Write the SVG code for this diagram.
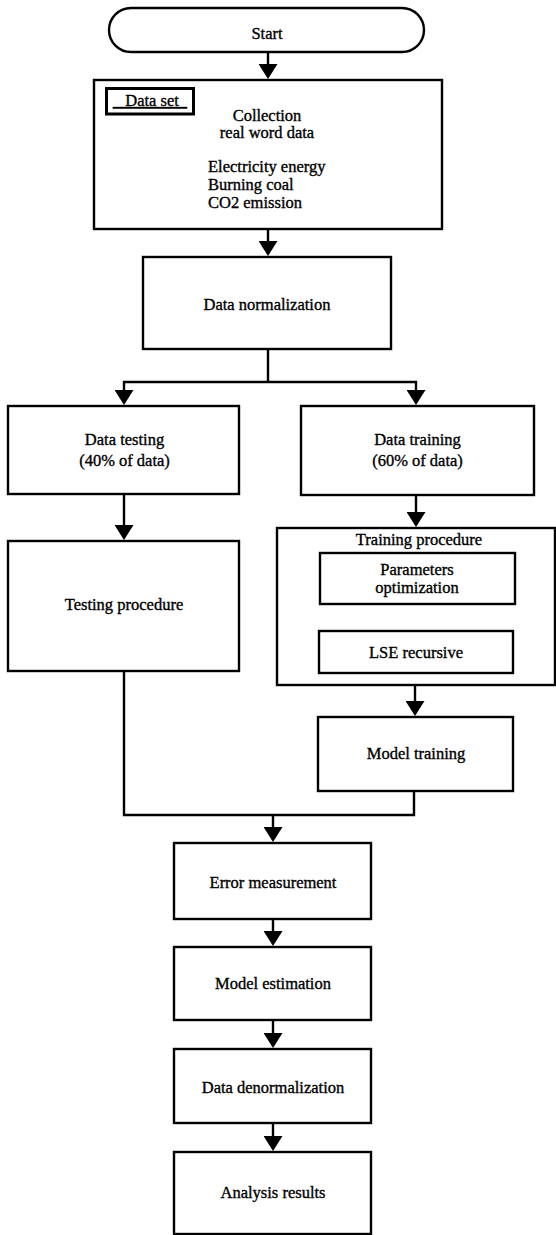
<svg xmlns="http://www.w3.org/2000/svg" width="556" height="1235" viewBox="0 0 556 1235">
<style>
.box{fill:#fff;stroke:#000;stroke-width:2.4}
text{font-family:"Liberation Serif","Times New Roman",serif;font-size:16.5px;fill:#000;stroke:#000;stroke-width:0.35}
.c{text-anchor:middle}
.conn{fill:none;stroke:#000;stroke-width:2.4;marker-end:url(#arr)}
.plain{fill:none;stroke:#000;stroke-width:2.4}
</style>
<defs>
<marker id="arr" viewBox="0 0 15 19" refX="13" refY="9.5" markerWidth="15" markerHeight="19" markerUnits="userSpaceOnUse" orient="auto">
<path d="M0,0 L15,9.5 L0,19 Z" fill="#000"/>
</marker>
</defs>
<rect width="556" height="1235" fill="#fff"/>
<g id="connectors">
<path class="conn" d="M268,52 V77"/>
<path class="conn" d="M268,229 V254"/>
<path class="plain" d="M268,349 V382"/>
<path class="conn" d="M268,382 H124 V403"/>
<path class="conn" d="M268,382 H416 V403"/>
<path class="conn" d="M124,494 V538"/>
<path class="conn" d="M416,495 V525"/>
<path class="conn" d="M417,604 V628"/>
<path class="conn" d="M415,685 V714"/>
<path class="plain" d="M124,671 V815 H414 V791"/>
<path class="conn" d="M273,815 V840"/>
<path class="conn" d="M273,919 V944"/>
<path class="conn" d="M273,1020 V1046"/>
<path class="conn" d="M273,1123 V1149"/>
</g>
<g id="start">
<rect class="box" x="109" y="8" width="315" height="44" rx="22" ry="22"/>
<text class="c" x="267" y="38.5">Start</text>
</g>
<g id="dataset">
<rect class="box" x="94" y="80" width="348" height="149"/>
<rect x="106.5" y="88.5" width="87" height="25.5" fill="none" stroke="#000" stroke-width="3"/>
<text class="c" x="150" y="106" text-decoration="underline">&#160;&#160;&#160;Data set&#160;&#160;</text>
<text class="c" x="267" y="121">Collection</text>
<text class="c" x="267" y="138">real word data</text>
<text x="208" y="172">Electricity energy</text>
<text x="208" y="190">Burning coal</text>
<text x="208" y="208">CO2 emission</text>
</g>
<g id="normalization">
<rect class="box" x="143" y="257" width="248" height="92"/>
<text class="c" x="267" y="309.5">Data normalization</text>
</g>
<g id="testing">
<rect class="box" x="8" y="406" width="231" height="88"/>
<text class="c" x="124.5" y="445">Data testing</text>
<text class="c" x="124.5" y="466">(40% of data)</text>
</g>
<g id="training">
<rect class="box" x="301" y="406" width="233" height="89"/>
<text class="c" x="417.5" y="445">Data training</text>
<text class="c" x="417.5" y="466">(60% of data)</text>
</g>
<g id="testing-procedure">
<rect class="box" x="8" y="541" width="231" height="130"/>
<text class="c" x="124" y="610">Testing procedure</text>
</g>
<g id="training-procedure">
<rect class="box" x="277" y="528" width="278" height="157"/>
<text class="c" x="419" y="545">Training procedure</text>
</g>
<g id="parameters">
<rect class="box" x="320" y="553" width="195" height="51"/>
<text class="c" x="417" y="575">Parameters</text>
<text class="c" x="417" y="593">optimization</text>
</g>
<g id="lse">
<rect class="box" x="319" y="631" width="194" height="42"/>
<text class="c" x="416" y="658">LSE recursive</text>
</g>
<g id="model-training">
<rect class="box" x="318" y="717" width="195" height="74"/>
<text class="c" x="416" y="759">Model training</text>
</g>
<g id="error">
<rect class="box" x="174" y="843" width="197" height="76"/>
<text class="c" x="273" y="888">Error measurement</text>
</g>
<g id="model-estimation">
<rect class="box" x="174" y="947" width="197" height="73"/>
<text class="c" x="273" y="989">Model estimation</text>
</g>
<g id="denormalization">
<rect class="box" x="174" y="1049" width="197" height="74"/>
<text class="c" x="273" y="1093">Data denormalization</text>
</g>
<g id="analysis">
<rect class="box" x="174" y="1152" width="197" height="82"/>
<text class="c" x="273" y="1198">Analysis results</text>
</g>
</svg>
